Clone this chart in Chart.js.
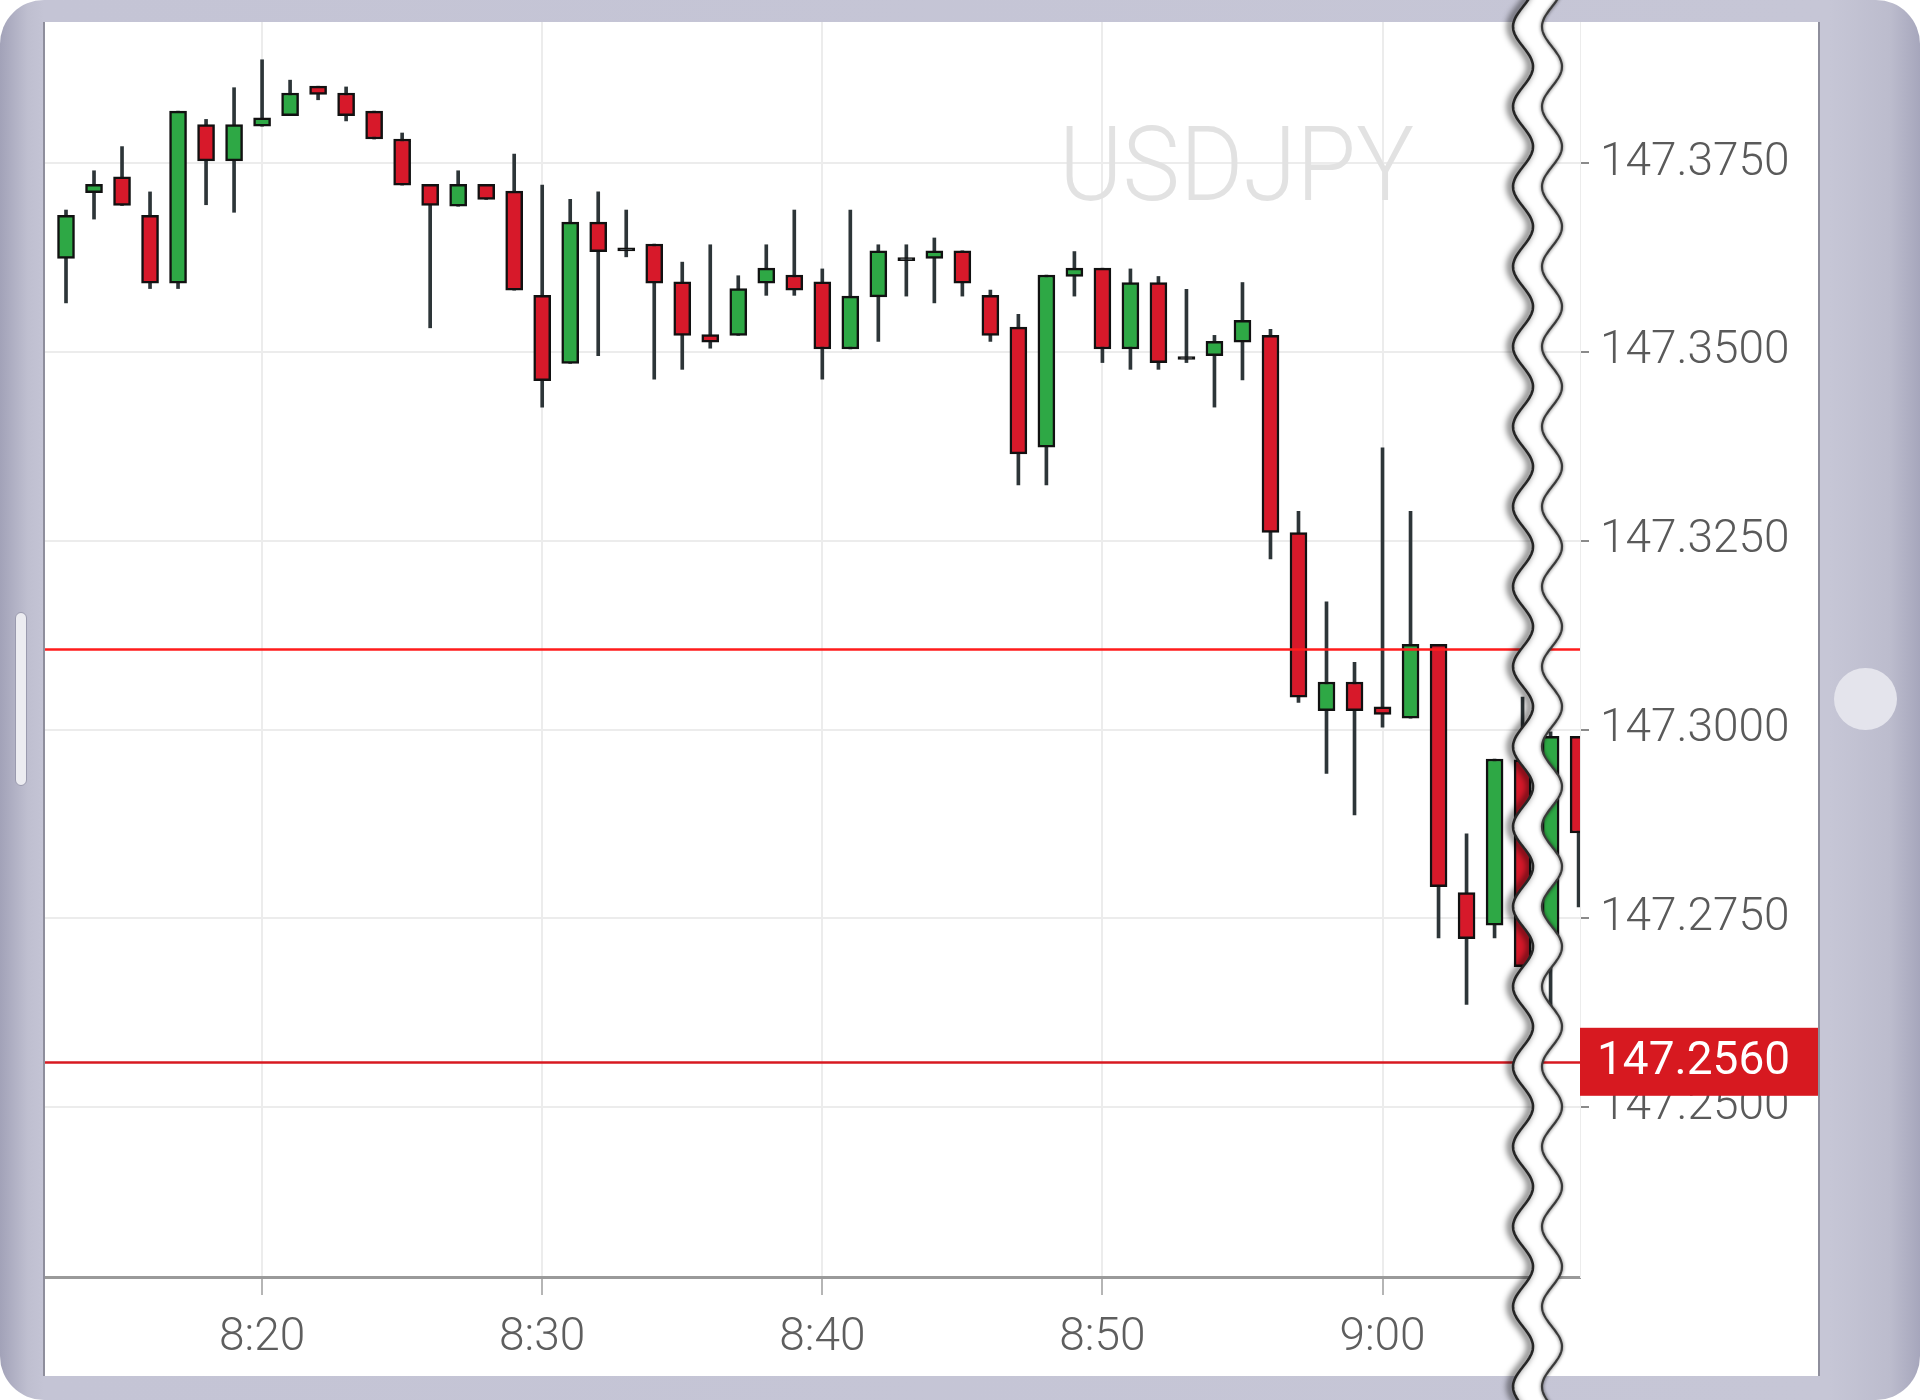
<!DOCTYPE html>
<html>
<head>
<meta charset="utf-8">
<script src="https://cdn.jsdelivr.net/npm/chart.js@4.4.1/dist/chart.umd.min.js"></script>
<style>
    html, body { margin: 0; padding: 0; background: #ffffff; }
    body { width: 1920px; height: 1400px; position: relative; overflow: hidden; }
    #frame {
        position: absolute; left: 0; top: 0; width: 1920px; height: 1400px;
        border-radius: 44px;
        background: linear-gradient(to right, #a2a2b8 0px, #bfbfd0 28px, #c4c4d5 44px, #c6c6d6 1830px, #bcbccd 1890px, #a6a6bc 1920px);
    }
    #screen {
        position: absolute; left: 43px; top: 22px; width: 1777px; height: 1354px;
        box-sizing: border-box; background: #ffffff;
        border-left: 2px solid #8e8e9c; border-right: 2px solid #8e8e9c;
    }
    #chartBox { position: absolute; left: 0; top: 0; width: 1773px; height: 1354px; }
    #button {
        position: absolute; left: 15px; top: 612px; width: 10px; height: 172px;
        background: #ececf1; border: 1px solid #9a9aae; border-radius: 6px;
    }
    #dot {
        position: absolute; left: 1834px; top: 668px; width: 63px; height: 62px;
        border-radius: 50%; background: #e4e4ec;
    }
    #tear { position: absolute; left: 0; top: 0; pointer-events: none; }
</style>
</head>
<body>
<div id="frame"></div>
<div id="button"></div>
<div id="dot"></div>
<div id="screen">
    <div id="chartBox"><canvas id="priceChart"></canvas></div>
</div>
<svg id="tear" width="1920" height="1400" viewBox="0 0 1920 1400">
    <defs>
        <filter id="blurL" x="-50%" y="-5%" width="200%" height="110%"><feGaussianBlur stdDeviation="3"/></filter>
        <filter id="blurR" x="-50%" y="-5%" width="200%" height="110%"><feGaussianBlur stdDeviation="1.5"/></filter>
    </defs>
    <path id="tearFill" fill="#ffffff"/>
    <path id="shadowL" fill="none" stroke="rgba(0,0,0,0.55)" stroke-width="6" filter="url(#blurL)" transform="translate(-3,0)"/>
    <path id="lineL" fill="none" stroke="#262626" stroke-width="2.6"/>
    <path id="haloR" fill="none" stroke="rgba(0,0,0,0.35)" stroke-width="4" filter="url(#blurR)"/>
    <path id="lineR" fill="none" stroke="#3a3a3a" stroke-width="2.2"/>
</svg>

<script>
// 1-minute USDJPY candles, 8:13 - 9:07
const times = ['8:13', '8:14', '8:15', '8:16', '8:17', '8:18', '8:19', '8:20', '8:21', '8:22',
    '8:23', '8:24', '8:25', '8:26', '8:27', '8:28', '8:29', '8:30', '8:31', '8:32',
    '8:33', '8:34', '8:35', '8:36', '8:37', '8:38', '8:39', '8:40', '8:41', '8:42',
    '8:43', '8:44', '8:45', '8:46', '8:47', '8:48', '8:49', '8:50', '8:51', '8:52',
    '8:53', '8:54', '8:55', '8:56', '8:57', '8:58', '8:59', '9:00', '9:01', '9:02',
    '9:03', '9:04', '9:05', '9:06', '9:07'];

const open = [147.3624, 147.3711, 147.3732, 147.3681, 147.3591, 147.3801, 147.3753, 147.3799, 147.3813, 147.3852,
    147.3843, 147.3819, 147.3782, 147.3722, 147.3693, 147.3722, 147.3713, 147.3575, 147.3485, 147.3672,
    147.3634, 147.3643, 147.3593, 147.3523, 147.3522, 147.3591, 147.3602, 147.3593, 147.3504, 147.3573,
    147.3621, 147.3624, 147.3634, 147.3575, 147.3533, 147.3374, 147.3600, 147.3611, 147.3504, 147.3592,
    147.3490, 147.3495, 147.3513, 147.3522, 147.3261, 147.3025, 147.3063, 147.3030, 147.3015, 147.3113,
    147.2784, 147.2741, 147.2960, 147.2701, 147.2991];

const high = [147.3688, 147.3740, 147.3772, 147.3712, 147.3819, 147.3808, 147.3850, 147.3887, 147.3860, 147.3852,
    147.3851, 147.3819, 147.3790, 147.3722, 147.3740, 147.3722, 147.3762, 147.3721, 147.3702, 147.3712,
    147.3688, 147.3643, 147.3619, 147.3642, 147.3601, 147.3642, 147.3688, 147.3610, 147.3688, 147.3642,
    147.3642, 147.3651, 147.3634, 147.3582, 147.3550, 147.3602, 147.3633, 147.3611, 147.3610, 147.3600,
    147.3583, 147.3522, 147.3592, 147.3530, 147.3289, 147.3169, 147.3089, 147.3373, 147.3289, 147.3113,
    147.2862, 147.2961, 147.3043, 147.2997, 147.2991];

const low = [147.3565, 147.3676, 147.3694, 147.3584, 147.3584, 147.3695, 147.3685, 147.3799, 147.3813, 147.3834,
    147.3806, 147.3782, 147.3721, 147.3532, 147.3693, 147.3702, 147.3582, 147.3427, 147.3485, 147.3495,
    147.3626, 147.3464, 147.3477, 147.3505, 147.3522, 147.3575, 147.3575, 147.3464, 147.3504, 147.3514,
    147.3574, 147.3565, 147.3574, 147.3514, 147.3324, 147.3324, 147.3574, 147.3486, 147.3477, 147.3477,
    147.3486, 147.3427, 147.3463, 147.3226, 147.3036, 147.2942, 147.2887, 147.3003, 147.3015, 147.2724,
    147.2636, 147.2724, 147.2664, 147.2589, 147.2765];

const close = [147.3681, 147.3722, 147.3694, 147.3591, 147.3819, 147.3753, 147.3801, 147.3810, 147.3843, 147.3841,
    147.3813, 147.3782, 147.3721, 147.3694, 147.3722, 147.3702, 147.3582, 147.3462, 147.3672, 147.3633,
    147.3634, 147.3591, 147.3522, 147.3513, 147.3584, 147.3611, 147.3582, 147.3504, 147.3574, 147.3634,
    147.3621, 147.3634, 147.3591, 147.3522, 147.3365, 147.3602, 147.3611, 147.3504, 147.3592, 147.3486,
    147.3490, 147.3514, 147.3542, 147.3261, 147.3043, 147.3063, 147.3025, 147.3020, 147.3113, 147.2792,
    147.2723, 147.2961, 147.2686, 147.2991, 147.2863];

const xTicks = ['8:20', '8:30', '8:40', '8:50', '9:00'];
const yTicks = [147.2500, 147.2750, 147.3000, 147.3250, 147.3500, 147.3750];

const symbol = 'USDJPY';
const levelLine = 147.3107;
const currentPrice = 147.2560;

const GREEN = '#2ea845';
const RED = '#d7192a';
const WICK = '#2d3538';

const toMinutes = t => {
    const [h, m] = t.split(':').map(Number);
    return h * 60 + m;
};
const fmtTime = v => Math.floor(v / 60) + ':' + String(Math.round(v % 60)).padStart(2, '0');

Chart.defaults.font.family = 'Roboto';

const watermarkPlugin = {
    id: 'watermark',
    beforeDatasetsDraw(chart) {
        const ctx = chart.ctx;
        ctx.save();
        ctx.translate(1014, 178);
        ctx.scale(0.93, 1);
        ctx.font = '300 104px Roboto';
        ctx.fillStyle = '#e2e2e2';
        ctx.textBaseline = 'alphabetic';
        ctx.textAlign = 'left';
        ctx.fillText(symbol, 0, 0);
        ctx.restore();
    }
};

const levelsPlugin = {
    id: 'levels',
    afterDatasetsDraw(chart) {
        const { ctx, chartArea } = chart;
        const y = chart.scales.y;
        ctx.save();
        ctx.lineWidth = 2.5;
        [[levelLine, '#ff1c1c'], [currentPrice, '#d71920']].forEach(([v, c]) => {
            const py = Math.round(y.getPixelForValue(v)) + 0.5;
            ctx.strokeStyle = c;
            ctx.beginPath();
            ctx.moveTo(chartArea.left, py);
            ctx.lineTo(chartArea.right, py);
            ctx.stroke();
        });
        ctx.restore();
    }
};

const priceTagPlugin = {
    id: 'priceTag',
    afterDraw(chart) {
        const { ctx, chartArea } = chart;
        const py = chart.scales.y.getPixelForValue(currentPrice);
        ctx.save();
        ctx.fillStyle = '#d71920';
        ctx.fillRect(chartArea.right, py - 34, chart.width - chartArea.right, 68);
        ctx.fillStyle = '#ffffff';
        ctx.font = '400 46px Roboto';
        ctx.textBaseline = 'middle';
        ctx.textAlign = 'left';
        ctx.fillText(currentPrice.toFixed(4), chartArea.right + 17, py + 1);
        ctx.restore();
    }
};

function buildChart() {
    const ctx = document.getElementById('priceChart').getContext('2d');
    const xs = times.map(toMinutes);

    new Chart(ctx, {
        type: 'bar',
        data: {
            datasets: [
                {
                    label: 'body',
                    data: xs.map((x, i) => ({ x, y: [open[i], close[i]] })),
                    backgroundColor: xs.map((x, i) => close[i] > open[i] ? GREEN : (close[i] < open[i] ? RED : WICK)),
                    borderColor: '#111111',
                    borderWidth: 2.5,
                    borderSkipped: false,
                    barThickness: 17,
                    minBarLength: 3,
                    grouped: false,
                    order: 1,
                    clip: 0
                },
                {
                    label: 'wick',
                    data: xs.map((x, i) => ({ x, y: [low[i], high[i]] })),
                    backgroundColor: WICK,
                    borderWidth: 0,
                    barThickness: 3,
                    grouped: false,
                    order: 2,
                    clip: 0
                }
            ]
        },
        options: {
            responsive: true,
            maintainAspectRatio: false,
            animation: false,
            layout: { padding: 0 },
            plugins: {
                legend: { display: false },
                tooltip: { enabled: false }
            },
            scales: {
                x: {
                    type: 'linear',
                    offset: false,
                    min: 492.25,
                    max: 547.05,
                    afterBuildTicks: axis => { axis.ticks = xTicks.map(t => ({ value: toMinutes(t) })); },
                    afterFit: axis => { axis.height = 99; axis.paddingLeft = 0; axis.paddingRight = 0; },
                    grid: { offset: false, color: '#ececec', lineWidth: 2, tickColor: '#9c9c9c', tickLength: 18, tickWidth: 1.5 },
                    border: { color: '#9a9a9a', width: 3 },
                    ticks: {
                        autoSkip: false,
                        maxRotation: 0,
                        padding: 16,
                        color: '#5e5e5e',
                        font: { size: 46, weight: '300' },
                        callback: v => fmtTime(v)
                    }
                },
                y: {
                    position: 'right',
                    min: 147.2275,
                    max: 147.3937,
                    afterBuildTicks: axis => { axis.ticks = yTicks.map(v => ({ value: v })); },
                    afterFit: axis => { axis.width = 238; axis.paddingTop = 0; axis.paddingBottom = 0; },
                    grid: { color: '#ececec', lineWidth: 2, tickColor: '#8a8a8a', tickLength: 9, tickWidth: 2 },
                    border: { color: '#ececec', width: 1 },
                    ticks: {
                        padding: 11,
                        color: '#5a5a5a',
                        font: { size: 46, weight: '300' },
                        callback: v => Number(v).toFixed(4)
                    }
                }
            }
        },
        plugins: [watermarkPlugin, levelsPlugin, priceTagPlugin]
    });
}

// torn-paper effect over the right edge
function buildTear() {
    const P = 80, A = 10, y0 = 786.7, cl = 1523, cr = 1552;
    const left = [], right = [];
    for (let y = -10; y <= 1410; y += 2) {
        const dx = A * Math.cos(2 * Math.PI * (y - y0) / P);
        left.push([cl + dx, y]);
        right.push([cr + dx, y]);
    }
    const toD = pts => pts.map((p, i) => (i ? 'L' : 'M') + p[0].toFixed(1) + ' ' + p[1]).join(' ');
    const dl = toD(left);
    const dr = toD(right);
    const fill = dl + ' ' + right.slice().reverse().map(p => 'L' + p[0].toFixed(1) + ' ' + p[1]).join(' ') + ' Z';
    document.getElementById('tearFill').setAttribute('d', fill);
    document.getElementById('shadowL').setAttribute('d', dl);
    document.getElementById('lineL').setAttribute('d', dl);
    document.getElementById('haloR').setAttribute('d', dr);
    document.getElementById('lineR').setAttribute('d', dr);
}

document.addEventListener('DOMContentLoaded', () => {
    buildChart();
    buildTear();
});
</script>
</body>
</html>
